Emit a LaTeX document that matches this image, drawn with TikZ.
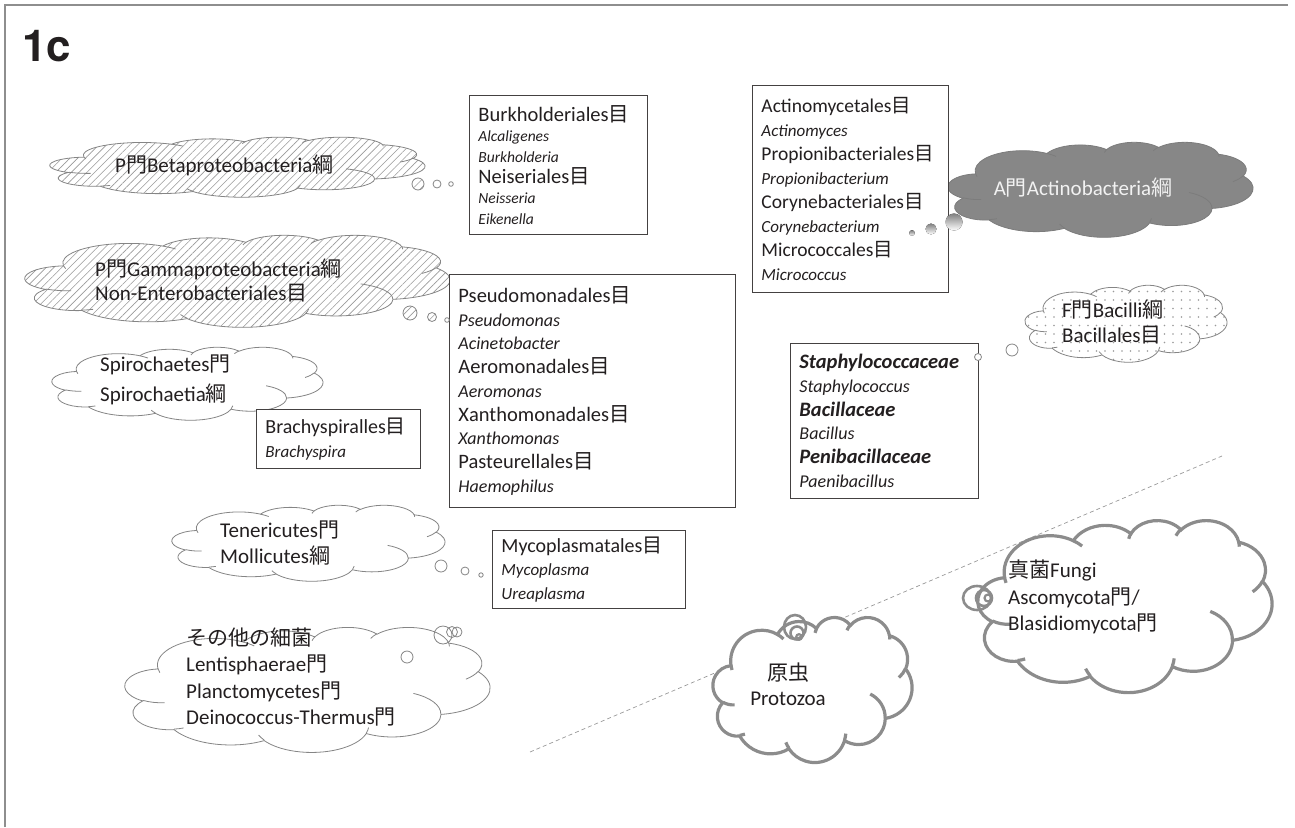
\documentclass[tikz,border=0pt]{standalone}
\usepackage{fontspec}
\setmainfont{Carlito}
\newfontfamily\cjk{Noto Sans CJK JP}
\newfontfamily\headfont{TeX Gyre Heros}
\usetikzlibrary{patterns.meta}

\definecolor{ink}{HTML}{231F20}
\definecolor{rim}{HTML}{858585}
\definecolor{heavy}{HTML}{8C8C8C}
\definecolor{shade}{HTML}{878787}
\definecolor{edge}{HTML}{8E8E8E}
\definecolor{hatch}{HTML}{9A9A9A}

% rank suffixes
\newcommand\Mon{{\cjk 門}}
\newcommand\Kou{{\cjk 綱}}
\newcommand\Moku{{\cjk 目}}
% genus names (italic) and family names (bold italic)
\newcommand\gen[2][17]{{\itshape\fontsize{#1}{#1}\selectfont #2}}
\newcommand\fami[1]{{\bfseries\itshape #1}}
\newcommand\cloudfont[1]{\fontsize{21}{#1}\selectfont}
\newcommand\boxfont[2]{\fontsize{#1}{#2}\selectfont}

% one arc of the cloud outline in a 432 x 432 frame (y down);
% angles are given as visual angles on the ellipse
\newcommand\defcloudarc[5]{%
  \pgfmathsetmacro\cloudT{atan2((#2)*sin(#4),(#3)*cos(#4))}%
  \pgfmathsetmacro\cloudU{atan2((#2)*sin((#4)+(#5)),(#3)*cos((#4)+(#5)))}%
  \pgfmathsetmacro\cloudD{mod((\cloudU)-(\cloudT)+720,360)}%
  \tikzset{#1/.style/.expanded={x radius=#2,y radius=#3,start angle=\cloudT,delta angle=\cloudD}}%
}
% outline puffs
\defcloudarc{ca1}{67.53}{91.90}{-190.4875}{123.7805}
\defcloudarc{ca2}{53.33}{72.67}{-144.1024}{89.9452}
\defcloudarc{ca3}{43.65}{59.45}{-145.8079}{99.7230}
\defcloudarc{ca4}{48.57}{65.95}{-130.9861}{117.2417}
\defcloudarc{ca5}{53.33}{72.73}{-78.7089}{109.0269}
\defcloudarc{ca6}{67.75}{92.20}{-46.2673}{130.2690}
\defcloudarc{ca7}{57.85}{78.67}{0.6250}{114.0333}
\defcloudarc{ca8}{67.52}{92.15}{22.4516}{115.1726}
\defcloudarc{ca9}{77.20}{105.43}{66.2426}{75.7110}
\defcloudarc{ca10}{43.60}{59.18}{-274.9421}{146.7356}
\defcloudarc{ca11}{43.45}{59.45}{-246.8285}{152.5189}
% inner creases
\defcloudarc{cb1}{43.45}{59.45}{86.7420}{26.4295}
\defcloudarc{cb2}{43.60}{59.18}{73.6105}{11.4475}
\defcloudarc{cb3}{67.52}{92.15}{137.6242}{14.0811}
\defcloudarc{cb4}{67.52}{92.15}{6.4533}{15.9984}
\defcloudarc{cb5}{57.85}{78.67}{-70.2924}{70.9174}
\defcloudarc{cb6}{53.33}{72.73}{30.3180}{27.7515}
\defcloudarc{cb7}{48.57}{65.95}{-13.7443}{14.8589}
\defcloudarc{cb8}{48.57}{65.95}{-149.1815}{18.1954}
\defcloudarc{cb9}{43.65}{59.45}{-163.4943}{17.6864}
\defcloudarc{cb10}{67.53}{91.90}{-66.7070}{12.3194}
\defcloudarc{cb11}{67.53}{91.90}{157.6544}{11.8582}

% \ppcloud{fill style}{line style}{left}{top}{width}{height}
\newcommand\ppcloud[6]{%
  \begin{scope}[shift={(#3,#4)},xscale=#5/432,yscale=#6/432]
    \path[#1,#2] (39.00,143.70) arc[ca1] arc[ca2] arc[ca3] arc[ca4] arc[ca5]
      arc[ca6] arc[ca7] arc[ca8] arc[ca9] arc[ca10] arc[ca11] -- cycle;
    \path[#2] (46.93,261.77) arc[cb1] (69.28,348.99) arc[cb2]
      (164.78,390.90) arc[cb3] (288.27,347.51) arc[cb4]
      (341.29,229.54) arc[cb5] (417.98,153.54) arc[cb6]
      (383.24,54.26) arc[cb7] (290.78,39.52) arc[cb8]
      (221.41,47.20) arc[cb9] (140.00,51.92) arc[cb10]
      (41.27,157.89) arc[cb11];
  \end{scope}}

\begin{document}
\begin{tikzpicture}[x=1pt,y=-1pt,
  frameline/.style={draw=edge,line width=1.6pt},
  thinline/.style={draw=rim,line width=0.8pt},
  heavyline/.style={draw=heavy,line width=3.2pt},
  grayline/.style={draw=shade!92!black,line width=0.8pt},
  hatchfill/.style={preaction={fill=white},pattern={Lines[angle=45,distance=5.5pt,line width=0.6pt]},pattern color=hatch},
  dotfill/.style={preaction={fill=white},pattern={Dots[distance=8.5pt,radius=0.8pt]},pattern color=hatch},
  plainfill/.style={fill=white},
  grayfill/.style={fill=shade},
  cloudtext/.style={text=ink,align=left,inner sep=0pt,anchor=west},
  listbox/.style={draw=ink!85,line width=0.9pt,fill=white,text=ink,inner xsep=9pt,
    inner ysep=0pt,align=left,anchor=north west},
  divider/.style={draw=black!40,line width=0.7pt,dash pattern=on 4pt off 3pt}]

\useasboundingbox (0,0) rectangle (1295,827);
\draw[frameline] (5,827) -- (5,5) -- (1288,5);

\node[anchor=base west,inner sep=0pt,text=ink,
  font=\headfont\bfseries\fontsize{44}{44}\selectfont] (panel) at (22,61) {1c};

% bacteria / fungi / protozoa divider
\coordinate (divA) at (530,752);
\coordinate (divB) at (1222,456);
\draw[divider] (divA) -- (divB);

% ---------- clouds ----------
\ppcloud{hatchfill}{thinline}{50}{137}{375}{60}
\ppcloud{hatchfill}{thinline}{25}{235}{425}{92}
\ppcloud{plainfill}{thinline}{52}{347}{271}{73}
\ppcloud{plainfill}{thinline}{172}{505}{273}{76}
\ppcloud{plainfill}{thinline}{125}{627}{365}{125}
\ppcloud{grayfill}{grayline}{948}{142}{305}{95}
\ppcloud{dotfill}{thinline}{1025}{285}{202}{77}
\ppcloud{plainfill}{heavyline}{713}{617}{199}{145}
\ppcloud{plainfill}{heavyline}{978}{520}{294}{172}

\node[cloudtext,font=\cloudfont{24}] (beta) at (115,165) {P\Mon Betaproteobacteria\Kou};
\node[cloudtext,font=\cloudfont{24}] (gamma) at (95,280)
  {P\Mon Gammaproteobacteria\Kou\\Non-Enterobacteriales\Moku};
\node[cloudtext,font=\cloudfont{30}] (spiro) at (100,380)
  {Spirochaetes\Mon\\Spirochaetia\Kou};
\node[cloudtext,font=\cloudfont{26}] (teneri) at (220,543)
  {Tenericutes\Mon\\Mollicutes\Kou};
\node[cloudtext,font=\cloudfont{26.3}] (other) at (186,677)
  {{\cjk その他の細菌}\\Lentisphaerae\Mon\\Planctomycetes\Mon\\Deinococcus-Thermus\Mon};
\node[cloudtext,anchor=center,text=white!95!black,font=\cloudfont{24}] (actino)
  at (1083,188) {A\Mon Actinobacteria\Kou};
\node[cloudtext,font=\cloudfont{25}] (bacilli) at (1062,322)
  {F\Mon Bacilli\Kou\\Bacillales\Moku};
\node[cloudtext,anchor=center,align=center,font=\cloudfont{25}] (protozoa) at (788,684)
  {{\cjk 原虫}\\Protozoa};
\node[cloudtext,font=\cloudfont{26.5}] (fungi) at (1008,597)
  {{\cjk 真菌}Fungi\\Ascomycota\Mon/\\Blasidiomycota\Mon};

% ---------- order / genus boxes ----------
\node[listbox,text width=160pt,minimum height=139pt,font=\boxfont{20.5}{20.6}] (burk) at (469,95)
  {Burkholderiales\Moku\\\gen[15.5]{Alcaligenes}\\\gen[15.5]{Burkholderia}\\
   Neiseriales\Moku\\\gen[15.5]{Neisseria}\\\gen[15.5]{Eikenella}};
\node[listbox,text width=178pt,minimum height=207pt,font=\boxfont{19.5}{24}] (actinolist) at (752,85)
  {Actinomycetales\Moku\\\gen{Actinomyces}\\Propionibacteriales\Moku\\\gen{Propionibacterium}\\
   Corynebacteriales\Moku\\\gen{Corynebacterium}\\Micrococcales\Moku\\\gen{Micrococcus}};
\node[listbox,text width=268pt,minimum height=233pt,font=\boxfont{20.5}{23.75}] (pseudo) at (449,274)
  {Pseudomonadales\Moku\\\gen[18]{Pseudomonas}\\\gen[18]{Acinetobacter}\\
   Aeromonadales\Moku\\\gen[18]{Aeromonas}\\Xanthomonadales\Moku\\\gen[18]{Xanthomonas}\\
   Pasteurellales\Moku\\\gen[18]{Haemophilus}};
\node[listbox,text width=170pt,minimum height=155pt,font=\boxfont{20.5}{23.8}] (staph) at (790,343)
  {\fami{Staphylococcaceae}\\\gen[18]{Staphylococcus}\\\fami{Bacillaceae}\\\gen[18]{Bacillus}\\
   \fami{Penibacillaceae}\\\gen[18]{Paenibacillus}};
\node[listbox,text width=146pt,minimum height=59pt,font=\boxfont{20}{24}] (brachy) at (256,409)
  {Brachyspiralles\Moku\\\gen{Brachyspira}};
\node[listbox,text width=175pt,minimum height=78pt,font=\boxfont{20}{23.5}] (myco) at (492,530)
  {Mycoplasmatales\Moku\\\gen{Mycoplasma}\\\gen{Ureaplasma}};

% ---------- thought bubbles ----------
\draw[hatchfill,thinline] (418,184) circle[radius=6];
\draw[plainfill,thinline] (437,184) circle[radius=4];
\draw[plainfill,thinline] (451,184) circle[radius=2.3];

\draw[hatchfill,thinline] (410,313) circle[radius=7];
\draw[hatchfill,thinline] (432,317) circle[radius=4.5];
\draw[plainfill,thinline] (447,320) circle[radius=2.3];

\fill[shade] (912,233) circle[radius=2.8];
\fill[shade] (931,229) circle[radius=5.5];
\fill[shade] (954,222) circle[radius=8.5];

\draw[plainfill,thinline] (1012,350) circle[radius=6];
\draw[plainfill,thinline] (978,357) circle[radius=3.5];

\draw[plainfill,thinline] (441,566) circle[radius=6];
\draw[plainfill,thinline] (465,571) circle[radius=4];
\draw[plainfill,thinline] (481,575) circle[radius=2.2];

\draw[thinline] (443,635) circle[radius=9];
\draw[thinline] (452,632) circle[radius=5.5];
\draw[thinline] (457,632) circle[radius=5];
\draw[thinline] (407,657) circle[radius=6];

\draw[heavyline,line width=2.6pt] (795,627) circle[x radius=11,y radius=12];
\draw[heavyline,line width=2.6pt] (797,633) circle[radius=6.5];
\draw[heavyline,line width=2.2pt] (799,637) circle[radius=2.8];

\draw[heavyline,line width=2.6pt] (977,598) circle[x radius=14,y radius=12];
\draw[heavyline,line width=2.6pt] (984,598) circle[radius=8];
\draw[heavyline,line width=2.2pt] (988,598) circle[radius=3.5];
\end{tikzpicture}
\end{document}
